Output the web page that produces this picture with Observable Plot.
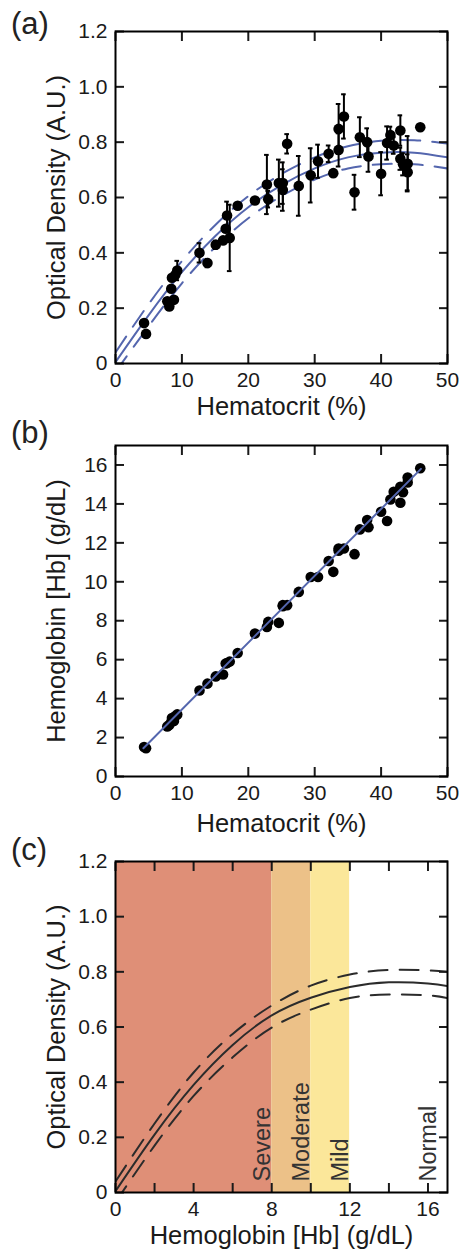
<!DOCTYPE html>
<html>
<head>
<meta charset="utf-8">
<script src="https://cdn.jsdelivr.net/npm/d3@7"></script>
<script src="https://cdn.jsdelivr.net/npm/@observablehq/plot@0.6"></script>
<style>
  html, body { margin: 0; padding: 0; background: #fff; }
  body { font-family: "Liberation Sans", Arial, Helvetica, sans-serif; }
  #wrap { position: relative; width: 461px; height: 1249px; overflow: hidden; }
  .panel { position: absolute; left: 0; }
  .plabel { position: absolute; left: 11px; font-size: 31px; line-height: 31px; color: #222; }
  g[aria-label="x-axis label"], g[aria-label="y-axis label"] { font-size: 25.5px; }
</style>
</head>
<body>
<div id="wrap"></div>
<script>
// ---------- DATA ----------
// Hematocrit (%) of each sample (shared by panels a and b)
const hct = [4.3, 4.6, 7.8, 8.1, 8.4, 8.5, 8.8, 9.0, 9.3, 12.65, 13.85, 15.1, 16.2, 16.6, 16.8, 17.2, 18.4, 21.0, 22.8, 23.0,
             24.6, 25.2, 25.2, 25.85, 27.6, 29.4, 30.5, 32.1, 32.8, 33.6, 33.6, 34.4, 36.0, 36.8, 37.9, 38.1, 40.0, 40.9, 41.4, 41.9,
             42.9, 42.9, 43.3, 44.0, 44.0, 45.9];
// Optical density (A.U.), panel a
const od = [0.146, 0.107, 0.225, 0.206, 0.27, 0.31, 0.230, 0.32, 0.336, 0.40, 0.363, 0.429, 0.445, 0.487, 0.535, 0.454, 0.57, 0.589, 0.647, 0.594,
            0.652, 0.652, 0.627, 0.794, 0.642, 0.68, 0.731, 0.758, 0.688, 0.772, 0.848, 0.893, 0.619, 0.818, 0.80, 0.748, 0.686, 0.797, 0.826, 0.788,
            0.842, 0.74, 0.72, 0.722, 0.691, 0.854];
// Error bar half-lengths (A.U.), panel a
const odErr = [0, 0, 0, 0, 0, 0, 0, 0, 0.035, 0.035, 0.015, 0.015, 0, 0, 0.05, 0.12, 0, 0, 0.107, 0.03,
               0.085, 0.075, 0.075, 0.035, 0.108, 0.098, 0.06, 0.03, 0, 0.06, 0.09, 0.08, 0.063, 0.072, 0.05, 0.055, 0.078, 0.06, 0.03, 0.03,
               0.055, 0.04, 0.04, 0.1, 0.065, 0];
// Hemoglobin (g/dL), panel b
const hb = [1.51, 1.45, 2.57, 2.65, 2.8, 3.0, 2.85, 3.1, 3.19, 4.42, 4.77, 5.14, 5.24, 5.8, 5.83, 5.9, 6.34, 7.34, 7.68, 7.94,
            7.89, 8.75, 8.8, 8.8, 9.48, 10.25, 10.25, 11.07, 10.51, 11.6, 11.71, 11.71, 11.42, 12.69, 13.17, 12.8, 13.6, 13.12, 14.23, 14.62,
            14.88, 14.06, 14.6, 15.36, 15.1, 15.83];

// Fit curve of panel a
const fitHct   = [0, 5, 10, 15, 20, 25, 30, 35, 40, 45, 50];
const fitOD    = [0.005, 0.175, 0.33, 0.46, 0.565, 0.645, 0.705, 0.745, 0.762, 0.762, 0.745];
const fitODHi  = [0.04, 0.215, 0.37, 0.5, 0.605, 0.685, 0.745, 0.785, 0.805, 0.807, 0.795];
const fitODLo  = [-0.03, 0.135, 0.29, 0.42, 0.525, 0.605, 0.665, 0.705, 0.72, 0.72, 0.705];

// Linear fit of panel b
const lineHct = [4.2, 46];
const lineHb  = [1.45, 15.8];

// Calibration curve of panel c
const calHb    = [0, 2, 4, 6, 8, 10, 12, 14, 16, 17];
const calOD    = [0.005, 0.21, 0.39, 0.535, 0.642, 0.706, 0.745, 0.762, 0.758, 0.748];
const calODHi  = [0.04, 0.25, 0.435, 0.575, 0.678, 0.75, 0.79, 0.807, 0.805, 0.80];
const calODLo  = [-0.035, 0.17, 0.35, 0.49, 0.598, 0.663, 0.705, 0.718, 0.715, 0.705];

// Anemia bands of panel c
const bandNames  = ["Severe", "Moderate", "Mild", "Normal"];
const bandStart  = [0, 8, 10, 12];
const bandEnd    = [8, 10, 12, 17];
const bandColors = ["#DF8F77", "#ECC188", "#FBE79A", "#FFFFFF"];
const bandLabelX = [7.5, 9.5, 11.5, 16];

// Ticks
const hctTicks = [0, 10, 20, 30, 40, 50];
const hctTickLabels = ["0", "10", "20", "30", "40", "50"];
const odTicks = [0, 0.2, 0.4, 0.6, 0.8, 1.0, 1.2];
const odTickLabels = ["0", "0.2", "0.4", "0.6", "0.8", "1.0", "1.2"];
const hbTicks = [0, 2, 4, 6, 8, 10, 12, 14, 16];
const hbTickLabels = ["0", "2", "4", "6", "8", "10", "12", "14", "16"];
const hbMinorTicks = [0, 2, 4, 6, 8, 10, 12, 14, 16];
const hbMajorTicks = [0, 4, 8, 12, 16];
const hbMajorLabels = ["0", "4", "8", "12", "16"];

// ---------- BUILD ----------
const BLUE = "#5466AE";
const DARK = "#2b2b2b";
const FONT = '"Liberation Sans", Arial, Helvetica, sans-serif';
const DASH = "19,12";

const samples = hct.map((h, i) => ({hct: h, od: od[i], err: odErr[i], hb: hb[i]}));
const errRows = samples.filter(d => d.err > 0).map(d => ({...d, lo: d.od - d.err, hi: d.od + d.err}));
const fitA = fitHct.map((x, i) => ({x, mid: fitOD[i], hi: fitODHi[i], lo: fitODLo[i]}));
const fitB = lineHct.map((x, i) => ({x, y: lineHb[i]}));
const fitC = calHb.map((x, i) => ({x, mid: calOD[i], hi: calODHi[i], lo: calODLo[i]}));
const bands = bandNames.map((name, i) => ({name, lo: bandStart[i], hi: bandEnd[i], fill: bandColors[i], lx: bandLabelX[i]}));

const fmt = (ticks, labels) => d => labels[ticks.findIndex(t => Math.abs(t - d) < 1e-9)] ?? "";

function axes({xTicks, xLabelTicks, xLabels, yTicks, yLabelTicks, yLabels, xLabel, yLabel, xLabelOffset}) {
  const tickOpts = {tickSize: -9, strokeWidth: 2, tickFormat: () => "", label: null};
  return [
    Plot.axisX(xTicks, {anchor: "bottom", ...tickOpts}),
    Plot.axisX(xTicks, {anchor: "top", ...tickOpts}),
    Plot.axisY(yTicks, {anchor: "left", ...tickOpts}),
    Plot.axisY(yTicks, {anchor: "right", ...tickOpts}),
    Plot.axisX(xLabelTicks, {anchor: "bottom", tickSize: 0, tickPadding: 9, tickFormat: fmt(xLabelTicks, xLabels),
      label: xLabel, labelAnchor: "center", labelOffset: xLabelOffset, labelArrow: "none"}),
    Plot.axisY(yLabelTicks, {anchor: "left", tickSize: 0, tickPadding: 8, tickFormat: fmt(yLabelTicks, yLabels),
      label: yLabel, labelAnchor: "center", labelOffset: 69, labelArrow: "none"})
  ];
}

const baseStyle = {fontFamily: FONT, fontSize: "21px", color: "#1a1a1a", background: "transparent", overflow: "visible"};

const plotA = Plot.plot({
  width: 461, height: 415,
  marginLeft: 115, marginRight: 14, marginTop: 31, marginBottom: 52,
  x: {domain: [0, 50]}, y: {domain: [0, 1.2]},
  style: baseStyle,
  marks: [
    Plot.line(fitA, {x: "x", y: "mid", stroke: BLUE, strokeWidth: 2, curve: "natural", clip: true}),
    Plot.line(fitA, {x: "x", y: "hi", stroke: BLUE, strokeWidth: 2, strokeDasharray: DASH, curve: "natural", clip: true}),
    Plot.line(fitA, {x: "x", y: "lo", stroke: BLUE, strokeWidth: 2, strokeDasharray: DASH, curve: "natural", clip: true}),
    Plot.ruleX(errRows, {x: "hct", y1: "lo", y2: "hi", stroke: "black", strokeWidth: 2}),
    Plot.ruleY(errRows, {y: "hi", x1: d => d.hct - 0.35, x2: d => d.hct + 0.35, stroke: "black", strokeWidth: 2}),
    Plot.ruleY(errRows, {y: "lo", x1: d => d.hct - 0.35, x2: d => d.hct + 0.35, stroke: "black", strokeWidth: 2}),
    Plot.dot(samples, {x: "hct", y: "od", r: 5.3, fill: "black", stroke: "none"}),
    ...axes({xTicks: hctTicks, xLabelTicks: hctTicks, xLabels: hctTickLabels, yTicks: odTicks, yLabelTicks: odTicks,
      yLabels: odTickLabels, xLabel: "Hematocrit (%)", yLabel: "Optical Density (A.U.)", xLabelOffset: 51}),
    Plot.frame({stroke: "black", strokeWidth: 2})
  ]
});

const plotB = Plot.plot({
  width: 461, height: 416,
  marginLeft: 115, marginRight: 14, marginTop: 30, marginBottom: 55,
  x: {domain: [0, 50]}, y: {domain: [0, 17]},
  style: baseStyle,
  marks: [
    Plot.dot(samples, {x: "hct", y: "hb", r: 5.3, fill: "black", stroke: "none"}),
    Plot.line(fitB, {x: "x", y: "y", stroke: BLUE, strokeWidth: 2}),
    ...axes({xTicks: hctTicks, xLabelTicks: hctTicks, xLabels: hctTickLabels, yTicks: hbTicks, yLabelTicks: hbTicks,
      yLabels: hbTickLabels, xLabel: "Hematocrit (%)", yLabel: "Hemoglobin [Hb] (g/dL)", xLabelOffset: 55}),
    Plot.frame({stroke: "black", strokeWidth: 2})
  ]
});

const plotC = Plot.plot({
  width: 461, height: 418,
  marginLeft: 115, marginRight: 14, marginTop: 30, marginBottom: 57,
  x: {domain: [0, 17]}, y: {domain: [0, 1.2]},
  style: baseStyle,
  marks: [
    Plot.rect(bands, {x1: "lo", x2: "hi", fill: "fill"}),
    Plot.text(bands, {x: "lx", text: "name", frameAnchor: "bottom", rotate: -90, textAnchor: "start", lineAnchor: "middle",
      dy: -11, fill: "#333", fontSize: 23.5}),
    Plot.line(fitC, {x: "x", y: "mid", stroke: DARK, strokeWidth: 2, curve: "natural", clip: true}),
    Plot.line(fitC, {x: "x", y: "hi", stroke: DARK, strokeWidth: 2, strokeDasharray: DASH, curve: "natural", clip: true}),
    Plot.line(fitC, {x: "x", y: "lo", stroke: DARK, strokeWidth: 2, strokeDasharray: DASH, curve: "natural", clip: true}),
    ...axes({xTicks: hbMinorTicks, xLabelTicks: hbMajorTicks, xLabels: hbMajorLabels, yTicks: odTicks, yLabelTicks: odTicks,
      yLabels: odTickLabels, xLabel: "Hemoglobin [Hb] (g/dL)", yLabel: "Optical Density (A.U.)", xLabelOffset: 51}),
    Plot.frame({stroke: "black", strokeWidth: 2})
  ]
});

const wrap = document.getElementById("wrap");
[[plotA, 0], [plotB, 415], [plotC, 831]].forEach(([svg, top]) => {
  const d = document.createElement("div");
  d.className = "panel";
  d.style.top = top + "px";
  d.appendChild(svg);
  wrap.appendChild(d);
});
[["(a)", 8], ["(b)", 417], ["(c)", 834]].forEach(([t, top]) => {
  const s = document.createElement("div");
  s.className = "plabel";
  s.style.top = top + "px";
  s.textContent = t;
  wrap.appendChild(s);
});
</script>
</body>
</html>
